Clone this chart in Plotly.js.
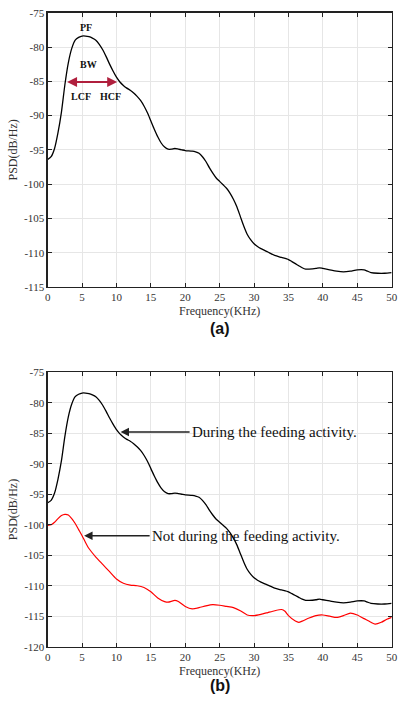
<!DOCTYPE html>
<html>
<head>
<meta charset="utf-8">
<script src="https://cdn.plot.ly/plotly-3.0.1.min.js"></script>
<style>html,body{margin:0;padding:0;background:#fff;}#chart{width:398px;height:707px;}</style>
</head>
<body>
<div id="chart"></div>
<script>
// Black curve: PSD during the feeding activity
var freqFeeding = [0,0.5,1,1.5,2,2.5,3,3.5,4,4.5,5,5.5,6,6.5,7,7.5,8,8.5,9,9.5,10,10.5,11,11.5,12,12.5,13,13.5,14,14.5,15,15.5,16,16.5,17,17.5,18,18.5,19,19.5,20,21,21.5,22,22.5,23,23.5,24,24.5,25,25.5,26,26.5,27,27.5,28,28.5,29,29.5,30,30.5,31,32,33,34,35,35.5,36,36.5,37,37.5,38,39,39.5,40,41,42,43,44,45,46,46.5,47,48,49,50];
var psdFeeding = [-96.4,-96.0,-94.8,-92.5,-89.5,-85.5,-82.3,-80.2,-79.0,-78.6,-78.4,-78.4,-78.5,-78.7,-79.0,-79.6,-80.4,-81.4,-82.5,-83.5,-84.4,-85.1,-85.6,-86.0,-86.3,-86.7,-87.2,-87.8,-88.6,-89.6,-90.8,-92.0,-93.1,-94.0,-94.6,-94.9,-94.9,-94.8,-94.9,-95.0,-95.1,-95.2,-95.3,-95.5,-96.0,-96.7,-97.6,-98.4,-99.1,-99.6,-100.1,-100.6,-101.3,-102.2,-103.3,-104.7,-106.1,-107.3,-108.1,-108.7,-109.1,-109.4,-109.9,-110.4,-110.7,-111.0,-111.3,-111.6,-111.9,-112.2,-112.4,-112.4,-112.3,-112.2,-112.3,-112.5,-112.7,-112.8,-112.7,-112.5,-112.5,-112.7,-112.9,-113.0,-113.0,-112.9];
// Red curve: PSD not during the feeding activity
var freqIdle = [0,0.5,1,1.5,2,2.5,3,3.5,4,4.5,5,5.5,6,7,8,9,10,11,12,13,14,15,16,17,17.5,18.5,19,20,21,22,23,24,25,26,27,28,29,30,31,32,33,34,34.5,35,36,36.5,37,38,39,40,41,42,43,44,45,46,47,47.6,48.5,49.3,50];
var psdIdle = [-100.1,-100.0,-99.6,-99.0,-98.5,-98.3,-98.4,-99.0,-99.8,-100.8,-101.8,-102.9,-103.9,-105.3,-106.5,-107.7,-108.9,-109.6,-109.9,-110.0,-110.3,-111.0,-112.0,-112.6,-112.7,-112.4,-112.6,-113.4,-113.8,-113.6,-113.3,-113.1,-113.2,-113.4,-113.6,-114.1,-114.8,-114.9,-114.7,-114.4,-114.1,-113.9,-114.2,-114.9,-115.8,-116.0,-115.8,-115.3,-114.9,-114.8,-115.0,-115.2,-114.9,-114.5,-114.8,-115.4,-116.0,-116.3,-116.0,-115.5,-115.2];

var xTicks = [0,5,10,15,20,25,30,35,40,45,50];
var yTicksTop = [-115,-110,-105,-100,-95,-90,-85,-80,-75];
var yTickTextTop = ["-115","-110","-105","-100","-95","-90","-85","-80","-75"];
var yTicksBottom = [-120,-115,-110,-105,-100,-95,-90,-85,-80,-75];
var yTickTextBottom = ["-120","-115","-110","-105","-100","-95","-90","-85","-80","-75"];

var xLabel = "Frequency(KHz)";
var yLabel = "PSD(dB/Hz)";

var serif = "Liberation Serif, Times New Roman, serif";
var tickFont = {family: serif, size: 11, color: "#333"};
var titleFont = {family: serif, size: 12, color: "#333"};

function xAxis(domain, anchor) {
  return {
    domain: domain, anchor: anchor, range: [0, 50], tickvals: xTicks,
    ticks: "inside", ticklen: 4, tickcolor: "#222", showline: true, linecolor: "#222", linewidth: 1.3,
    mirror: "ticks", showgrid: true, gridcolor: "#e6e6e6", gridwidth: 1, zeroline: false,
    tickfont: tickFont, automargin: false, ticklabeloverflow: "allow",
    title: {text: xLabel, font: titleFont, standoff: 4}
  };
}
function yAxis(domain, anchor, range, vals, text) {
  return {
    domain: domain, anchor: anchor, range: range, tickvals: vals, ticktext: text,
    ticks: "inside", ticklen: 4, tickcolor: "#222", showline: true, linecolor: "#222", linewidth: 1.3,
    mirror: "ticks", showgrid: true, gridcolor: "#e6e6e6", gridwidth: 1, zeroline: false,
    tickfont: tickFont, automargin: false, ticklabeloverflow: "allow",
    title: {text: yLabel, font: titleFont, standoff: 3}
  };
}

var traces = [
  {x: freqFeeding, y: psdFeeding, xaxis: "x", yaxis: "y", mode: "lines",
   line: {color: "#000", width: 1.3, shape: "spline", smoothing: 0.6}, name: "During the feeding activity"},
  {x: freqFeeding, y: psdFeeding, xaxis: "x2", yaxis: "y2", mode: "lines",
   line: {color: "#000", width: 1.3, shape: "spline", smoothing: 0.6}, name: "During the feeding activity"},
  {x: freqIdle, y: psdIdle, xaxis: "x2", yaxis: "y2", mode: "lines",
   line: {color: "#ff0000", width: 1.2, shape: "spline", smoothing: 0.6}, name: "Not during the feeding activity"}
];

var boldSerif = {family: serif, size: 10, color: "#111", weight: "bold"};
var crimson = "#b01f3d";
var xDom = [0.1198, 0.984];

var layout = {
  width: 398, height: 707,
  margin: {l: 0, r: 0, t: 0, b: 0},
  paper_bgcolor: "#fff", plot_bgcolor: "#fff",
  showlegend: false,
  xaxis: xAxis(xDom, "y"),
  yaxis: yAxis([0.5941, 0.9820], "x", [-115, -75], yTicksTop, yTickTextTop),
  xaxis2: xAxis(xDom, "y2"),
  yaxis2: yAxis([0.0853, 0.4734], "x2", [-120, -75], yTicksBottom, yTickTextBottom),
  annotations: [
    {xref: "x", yref: "y", x: 5.6, y: -77.2, text: "<b>PF</b>", showarrow: false, font: boldSerif},
    {xref: "x", yref: "y", x: 5.9, y: -82.6, text: "<b>BW</b>", showarrow: false, font: boldSerif},
    {xref: "x", yref: "y", x: 4.8, y: -87.2, text: "<b>LCF</b>", showarrow: false, font: boldSerif},
    {xref: "x", yref: "y", x: 9.1, y: -87.2, text: "<b>HCF</b>", showarrow: false, font: boldSerif},
    {xref: "x", yref: "y", axref: "x", ayref: "y", x: 10.1, y: -85.1, ax: 2.6, ay: -85.1, text: "",
     showarrow: true, arrowside: "end+start", arrowhead: 2, startarrowhead: 2, arrowsize: 1, startarrowsize: 1,
     arrowwidth: 2, arrowcolor: crimson, standoff: 0, startstandoff: 0},
    {xref: "x2", yref: "y2", x: 10.6, y: -84.8, ax: 154, ay: 0, text: "During the feeding activity.",
     showarrow: true, arrowhead: 2, arrowsize: 1.2, arrowwidth: 1.4, arrowcolor: "#222",
     font: {family: serif, size: 15, color: "#111"}, borderpad: 2},
    {xref: "x2", yref: "y2", x: 5.3, y: -101.8, ax: 162, ay: 0, text: "Not during the feeding activity.",
     showarrow: true, arrowhead: 2, arrowsize: 1.2, arrowwidth: 1.4, arrowcolor: "#222",
     font: {family: serif, size: 15, color: "#111"}, borderpad: 2},
    {xref: "paper", yref: "paper", x: 0.552, y: 0.5347, text: "<b>(a)</b>", showarrow: false,
     font: {family: "Liberation Sans, Arial, sans-serif", size: 16, color: "#111"}},
    {xref: "paper", yref: "paper", x: 0.552, y: 0.0156, text: "<b>(b)</b>", showarrow: false,
     font: {family: "Liberation Sans, Arial, sans-serif", size: 16, color: "#111"}}
  ]
};

Plotly.newPlot("chart", traces, layout, {staticPlot: true, displayModeBar: false});
</script>
</body>
</html>
